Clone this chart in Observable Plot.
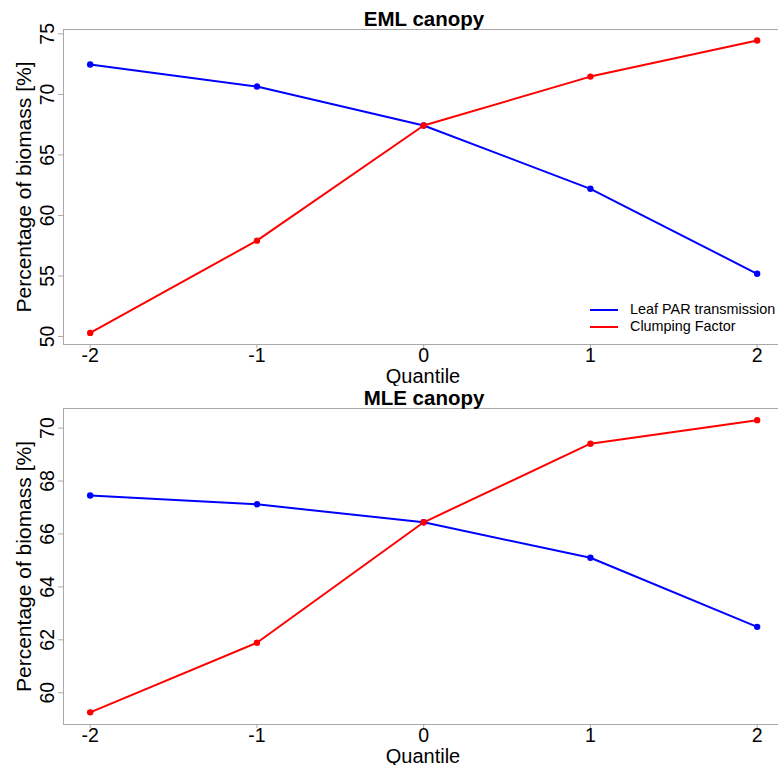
<!DOCTYPE html>
<html>
<head>
<meta charset="utf-8">
<script src="https://cdn.jsdelivr.net/npm/d3@7"></script>
<script src="https://cdn.jsdelivr.net/npm/@observablehq/plot@0.6"></script>
<style>
  html, body { margin: 0; padding: 0; background: #fff; }
  #wrap { position: relative; width: 778px; height: 765px; font-family: "Liberation Sans", Arial, sans-serif; }
  #wrap svg { display: block; }
  .legend { position: absolute; left: 590px; top: 301px; font-size: 14.4px; line-height: 17px; color: #000; }
  .legend .item { display: flex; align-items: center; white-space: nowrap; }
  .legend .sw { display: inline-block; width: 28px; height: 0; border-top: 2px solid; margin-right: 12px; }
</style>
</head>
<body>
<div id="wrap"></div>
<script>
// ---- data ----
const quantiles = [-2, -1, 0, 1, 2];
const seriesNames = ["Leaf PAR transmission", "Clumping Factor"];
const seriesColors = ["#0000ff", "#ff0000"];

const emlLeaf  = [72.47, 70.65, 67.43, 62.2, 55.18];
const emlClump = [50.3, 57.92, 67.43, 71.47, 74.45];

const mleLeaf  = [67.45, 67.12, 66.44, 65.1, 62.49];
const mleClump = [59.26, 61.89, 66.44, 69.41, 70.3];

const xTicks = [-2, -1, 0, 1, 2];
const emlYTicks = [50, 55, 60, 65, 70, 75];
const mleYTicks = [60, 62, 64, 66, 68, 70];

const xDomain = [-2.16, 2.128];
const emlYDomain = [49.34, 75.36];
const mleYDomain = [58.8, 70.74];

const titles = ["EML canopy", "MLE canopy"];
const xLabel = "Quantile";
const yLabel = "Percentage of biomass [%]";

// ---- helpers ----
function tidy(leaf, clump) {
  const rows = [];
  quantiles.forEach((q, i) => rows.push({q, v: leaf[i], s: seriesNames[0]}));
  quantiles.forEach((q, i) => rows.push({q, v: clump[i], s: seriesNames[1]}));
  return rows;
}

const FONT = '"Liberation Sans", Arial, sans-serif';
const frameColor = "#a8a8a8";

function panel({data, yDomain, yTicks, title, height, marginTop, marginBottom}) {
  return Plot.plot({
    width: 778,
    height,
    marginTop,
    marginBottom,
    marginLeft: 63,
    marginRight: 0,
    style: {fontFamily: FONT, background: "#fff"},
    x: {domain: xDomain},
    y: {domain: yDomain},
    color: {domain: seriesNames, range: seriesColors},
    marks: [
      // frame: left, top, bottom
      Plot.ruleX([xDomain[0]], {stroke: frameColor, strokeWidth: 1}),
      Plot.ruleY([yDomain[0], yDomain[1]], {stroke: frameColor, strokeWidth: 1}),
      // x axis
      Plot.axisX({ticks: xTicks, tickSize: 4, tickPadding: 0, fontSize: 19.5, stroke: frameColor, label: null, tickFormat: d => String(d).replace("−", "-")}),
      // y axis ticks
      Plot.axisY({ticks: yTicks, tickSize: 5, stroke: frameColor, label: null, tickFormat: () => ""}),
      // y tick labels rotated
      Plot.text(yTicks, {y: d => d, text: d => String(d), frameAnchor: "left", rotate: -90, textAnchor: "middle", lineAnchor: "bottom", dx: -10, fontSize: 19.5, fill: "#000"}),
      // y axis label
      Plot.text([yLabel], {text: d => d, frameAnchor: "left", rotate: -90, textAnchor: "middle", lineAnchor: "bottom", dx: -33, fontSize: 21, fill: "#000"}),
      // x axis label
      Plot.text([xLabel], {text: d => d, frameAnchor: "bottom", lineAnchor: "bottom", dy: 38, dx: 2, fontSize: 20, fill: "#000"}),
      // title
      Plot.text([title], {text: d => d, frameAnchor: "top", lineAnchor: "bottom", dy: -4, dx: 3, fontSize: 20.5, fontWeight: "bold", fill: "#000"}),
      // data
      Plot.line(data, {x: "q", y: "v", z: "s", stroke: "s", strokeWidth: 2}),
      Plot.dot(data, {x: "q", y: "v", fill: "s", r: 3.2, stroke: null})
    ]
  });
}

const wrap = document.getElementById("wrap");
wrap.appendChild(panel({data: tidy(emlLeaf, emlClump), yDomain: emlYDomain, yTicks: emlYTicks, title: titles[0], height: 386, marginTop: 29, marginBottom: 42}));
wrap.appendChild(panel({data: tidy(mleLeaf, mleClump), yDomain: mleYDomain, yTicks: mleYTicks, title: titles[1], height: 379, marginTop: 22, marginBottom: 41}));

// legend (top panel)
const legend = document.createElement("div");
legend.className = "legend";
seriesNames.forEach((name, i) => {
  const item = document.createElement("div");
  item.className = "item";
  const sw = document.createElement("span");
  sw.className = "sw";
  sw.style.borderTopColor = seriesColors[i];
  const label = document.createElement("span");
  label.textContent = name;
  item.appendChild(sw);
  item.appendChild(label);
  legend.appendChild(item);
});
wrap.appendChild(legend);
</script>
</body>
</html>
